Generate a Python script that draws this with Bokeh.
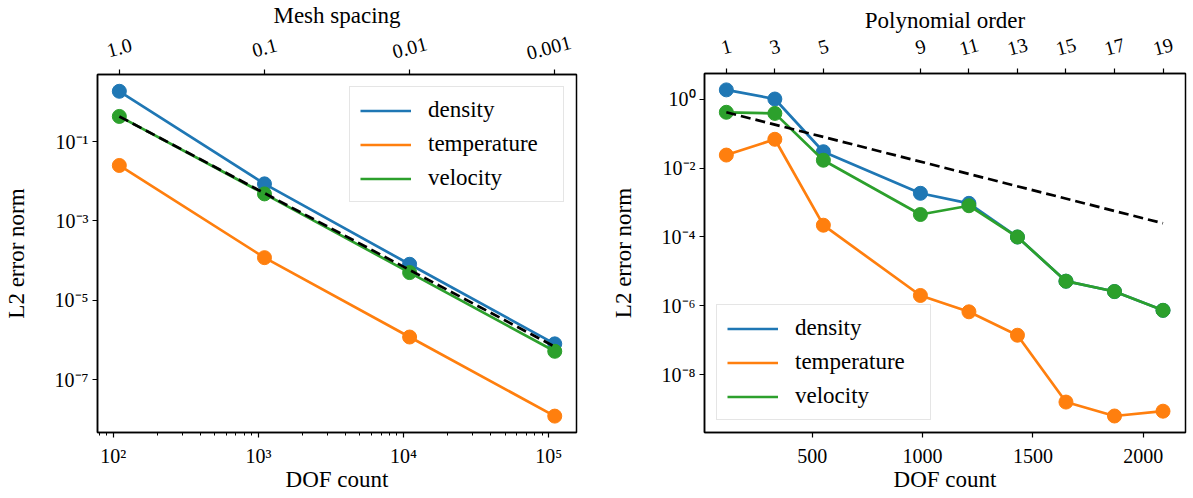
import math
from bokeh.plotting import figure
from bokeh.models import FixedTicker, LogAxis, LinearAxis, Range1d
from bokeh.layouts import row, column
from bokeh.core.properties import value
from bokeh.embed import file_html
from bokeh.resources import INLINE

# ---------------- data ----------------
# left panel: h-refinement
mesh_dof = [110, 1100, 11000, 110000]
mesh_spacing_labels = ["1.0", "0.1", "0.01", "0.001"]
mesh_density = [1.85, 8.6e-3, 8.1e-5, 8.0e-7]
mesh_temperature = [2.5e-2, 1.19e-4, 1.19e-6, 1.21e-8]
mesh_velocity = [0.43, 4.8e-3, 5.0e-5, 5.2e-7]
mesh_ref_dof = [110, 110000]
mesh_ref_err = [0.43, 6.8e-7]

# right panel: p-refinement
poly_order = [1, 3, 5, 9, 11, 13, 15, 17, 19]
poly_dof = [110, 330, 550, 990, 1210, 1430, 1650, 1870, 2090]
poly_density = [1.88, 1.02, 0.030, 1.86e-3, 9.5e-4, 1.0e-4, 5.2e-6, 2.6e-6, 7.4e-7]
poly_temperature = [0.024, 0.069, 2.2e-4, 2.0e-6, 6.7e-7, 1.4e-7, 1.6e-9, 6.3e-10, 8.7e-10]
poly_velocity = [0.42, 0.39, 0.017, 4.5e-4, 8.1e-4, 1.0e-4, 5.2e-6, 2.6e-6, 7.4e-7]
poly_ref_dof = [110, 2090]
poly_ref_err = [0.42, 2.5e-4]

# tick labels
left_x_exps = [2, 3, 4, 5]
left_y_exps = [-1, -3, -5, -7]
right_y_exps = [0, -2, -4, -6, -8]
right_x_ticks = [500, 1000, 1500, 2000]

series_names = ["density", "temperature", "velocity"]
colors = ["#1f77b4", "#ff7f0e", "#2ca02c"]

FONT = "Liberation Serif"
SUP = str.maketrans("0123456789-", "⁰¹²³⁴⁵⁶⁷⁸⁹⁻")

TOTAL_H = 496
BS = 54        # bottom strip (x tick labels + x axis title)
MT, MB = 12, 10


def pow10_label(e):
    return "10" + str(e).translate(SUP)


def style(p, ylab_standoff):
    p.outline_line_color = "black"
    p.outline_line_width = 1.5
    p.xgrid.visible = False
    p.ygrid.visible = False
    p.background_fill_color = "white"
    p.border_fill_color = "white"
    for ax in p.axis:
        ax.axis_line_width = 1.5
        ax.axis_line_color = "black"
        ax.major_tick_in = 0
        ax.major_tick_out = 5
        ax.minor_tick_in = 0
        ax.minor_tick_out = 3
        ax.major_tick_line_width = 1.2
        ax.minor_tick_line_width = 1
        ax.major_label_text_font = FONT
        ax.major_label_text_font_size = "20px"
        ax.major_label_text_color = "black"
        ax.major_label_standoff = 4
        ax.axis_label_text_font = FONT
        ax.axis_label_text_font_style = "normal"
        ax.axis_label_text_font_size = "23px"
        ax.axis_label_text_color = "black"
    p.xaxis.major_label_standoff = 0
    p.yaxis.axis_label_standoff = ylab_standoff


def style_legend(p, loc):
    lg = p.legend[0]
    lg.location = loc
    lg.margin = 12
    lg.padding = 10
    lg.spacing = 8
    lg.glyph_width = 51
    lg.glyph_height = 23
    lg.label_height = 23
    lg.label_width = 125
    lg.label_standoff = 17
    lg.label_text_font = FONT
    lg.label_text_font_size = "23px"
    lg.label_text_color = "black"
    lg.border_line_color = "#cccccc"
    lg.border_line_width = 1
    lg.background_fill_alpha = 0.8


def blank_strip(width, height, x_range, x_type, left, right):
    s = figure(width=width, height=height, x_axis_type=x_type, x_range=x_range,
               y_range=Range1d(0, height), x_axis_location=None, y_axis_location=None,
               output_backend="svg", toolbar_location=None,
               min_border_left=left, min_border_right=right, min_border_top=0, min_border_bottom=0)
    s.outline_line_color = None
    s.background_fill_color = "white"
    s.border_fill_color = "white"
    s.xgrid.visible = False
    s.ygrid.visible = False
    return s


def top_strip(width, height, x_range, x_type, left, right, xs, texts, nudges, tick_y,
              title, title_x, title_y):
    s = blank_strip(width, height, x_range, x_type, left, right)
    s.text(x=xs, y=tick_y, text=texts, x_offset=nudges, angle=0.26, text_align="center",
           text_baseline="middle", text_font=value(FONT), text_font_size="20px", text_color="black")
    s.text(x=[title_x], y=title_y, text=[title], text_align="center", text_baseline="middle",
           text_font=value(FONT), text_font_size="23px", text_color="black")
    return s


def bottom_strip(width, x_range, x_type, left, right, xs, texts, title_x):
    s = blank_strip(width, BS, x_range, x_type, left, right)
    s.text(x=xs, y=BS - 13, text=texts, text_align="center", text_baseline="middle",
           text_font=value(FONT), text_font_size="20px", text_color="black")
    s.text(x=[title_x], y=BS - 37, text=["DOF count"], text_align="center", text_baseline="middle",
           text_font=value(FONT), text_font_size="23px", text_color="black")
    return s


# ---------------- left figure ----------------
W1, L1, R1, TS1 = 600, 96, 24, 62
x1 = Range1d(77.8, 155300)
p1 = figure(width=W1, height=TOTAL_H - TS1 - BS, x_axis_type="log", y_axis_type="log",
            x_range=x1, y_range=Range1d(10 ** -8.33, 10 ** 0.69),
            output_backend="svg", toolbar_location=None,
            min_border_left=L1, min_border_right=R1, min_border_top=MT, min_border_bottom=MB)

for name, ys, c in zip(series_names, [mesh_density, mesh_temperature, mesh_velocity], colors):
    p1.line(mesh_dof, ys, line_color=c, line_width=2.7, legend_label=name)
    p1.scatter(mesh_dof, ys, size=14, fill_color=c, line_color=c)
p1.line(mesh_ref_dof, mesh_ref_err, line_color="black", line_width=2.7, line_dash="10 5")

minor1 = [m * 10 ** k for k in range(1, 6) for m in range(2, 10) if 77.8 <= m * 10 ** k <= 155300]
p1.xaxis.ticker = FixedTicker(ticks=[10 ** e for e in left_x_exps], minor_ticks=minor1)
p1.xaxis.major_label_overrides = {10 ** e: "" for e in left_x_exps}
p1.yaxis.ticker = FixedTicker(ticks=[10.0 ** e for e in left_y_exps], minor_ticks=[])
p1.yaxis.major_label_overrides = {10.0 ** e: pow10_label(e) for e in left_y_exps}
p1.yaxis.axis_label = "L2 error norm"

top1 = LogAxis(ticker=FixedTicker(ticks=mesh_dof, minor_ticks=[]),
               major_label_overrides={d: "" for d in mesh_dof})
p1.add_layout(top1, "above")
style(p1, 23)
style_legend(p1, "top_right")
cx1 = math.sqrt(x1.start * x1.end)
# last rotated label nudged left so that it stays inside the strip's clip area
s1 = top_strip(W1, TS1, x1, "log", L1, R1, mesh_dof, mesh_spacing_labels, [0, 0, 0, -6],
               TS1 - 47, "Mesh spacing", cx1, TS1 - 15)
b1 = bottom_strip(W1, x1, "log", L1, R1, [10 ** e for e in left_x_exps],
                  [pow10_label(e) for e in left_x_exps], cx1)

# ---------------- right figure ----------------
W2, L2, R2, TS2 = 590, 104, 5, 61
x2 = Range1d(11, 2192)
p2 = figure(width=W2, height=TOTAL_H - TS2 - BS, y_axis_type="log",
            x_range=x2, y_range=Range1d(10 ** -9.68, 10 ** 0.75),
            output_backend="svg", toolbar_location=None,
            min_border_left=L2, min_border_right=R2, min_border_top=MT, min_border_bottom=MB)

for name, ys, c in zip(series_names, [poly_density, poly_temperature, poly_velocity], colors):
    p2.line(poly_dof, ys, line_color=c, line_width=2.7, legend_label=name)
    p2.scatter(poly_dof, ys, size=14, fill_color=c, line_color=c)
p2.line(poly_ref_dof, poly_ref_err, line_color="black", line_width=2.7, line_dash="10 5")

p2.xaxis.ticker = FixedTicker(ticks=right_x_ticks, minor_ticks=[])
p2.xaxis.major_label_overrides = {t: "" for t in right_x_ticks}
p2.yaxis.ticker = FixedTicker(ticks=[10.0 ** e for e in right_y_exps], minor_ticks=[])
p2.yaxis.major_label_overrides = {10.0 ** e: pow10_label(e) for e in right_y_exps}
p2.yaxis.axis_label = "L2 error norm"

top2 = LinearAxis(ticker=FixedTicker(ticks=poly_dof, minor_ticks=[]),
                  major_label_overrides={d: "" for d in poly_dof})
p2.add_layout(top2, "above")
style(p2, 23)
style_legend(p2, "bottom_left")
cx2 = (x2.start + x2.end) / 2
s2 = top_strip(W2, TS2, x2, "linear", L2, R2, poly_dof, [str(o) for o in poly_order],
               [0] * len(poly_dof), TS2 - 46, "Polynomial order", cx2, TS2 - 20)
b2 = bottom_strip(W2, x2, "linear", L2, R2, right_x_ticks, [str(t) for t in right_x_ticks], cx2)

layout = row(column(s1, p1, b1), column(s2, p2, b2))
open("out.html", "w").write(file_html(layout, INLINE))
